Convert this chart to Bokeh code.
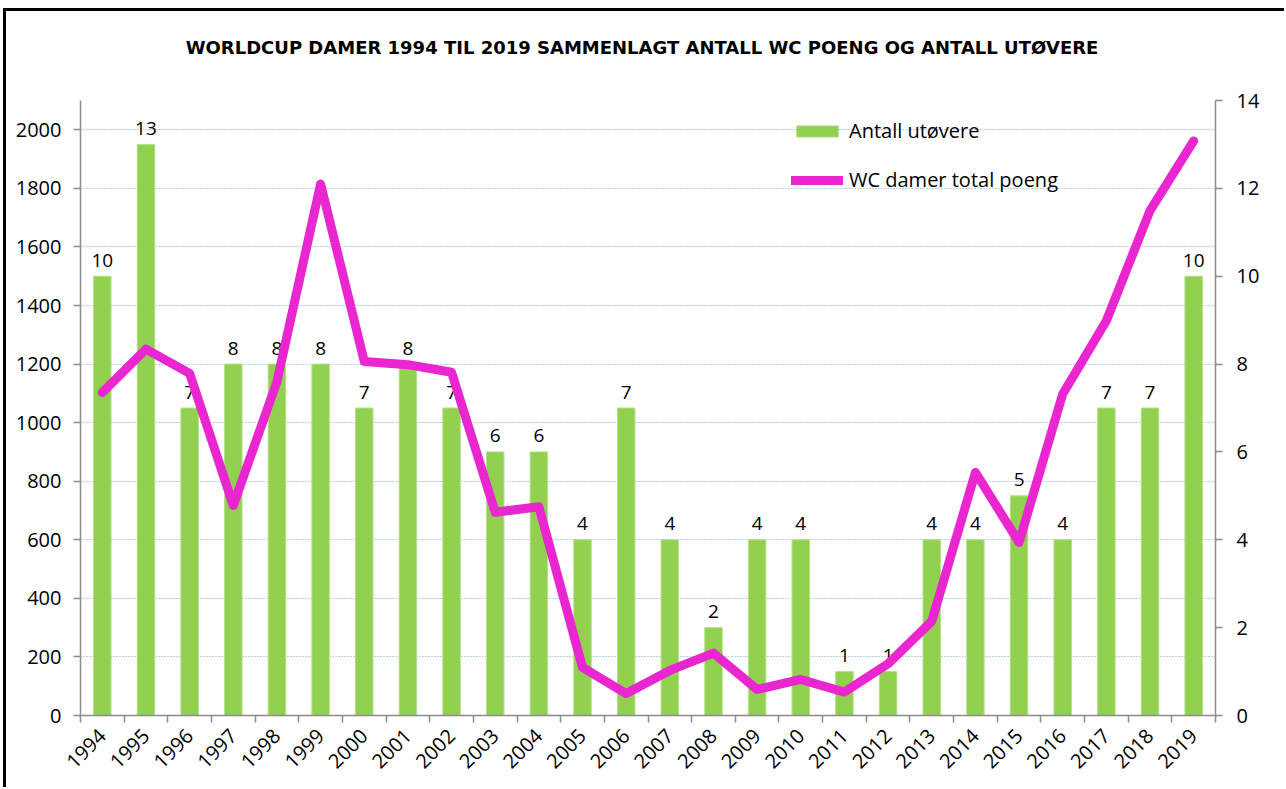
from bokeh.plotting import figure
from bokeh.models import Range1d, LinearAxis, FixedTicker, Legend, LegendItem, ColumnDataSource, Div
from bokeh.layouts import column
from bokeh.core.properties import value
from bokeh.embed import file_html
from bokeh.resources import INLINE
import math

years = [1994, 1995, 1996, 1997, 1998, 1999, 2000, 2001, 2002, 2003, 2004, 2005, 2006,
         2007, 2008, 2009, 2010, 2011, 2012, 2013, 2014, 2015, 2016, 2017, 2018, 2019]
antall_utovere = [10, 13, 7, 8, 8, 8, 7, 8, 7, 6, 6, 4, 7, 4, 2, 4, 4, 1, 1, 4, 4, 5, 4, 7, 7, 10]
total_poeng = [1103, 1251, 1168, 717, 1140, 1815, 1209, 1198, 1172, 694, 713, 164, 75,
               154, 213, 89, 123, 80, 177, 322, 830, 591, 1098, 1348, 1724, 1962]
left_ticks = [0, 200, 400, 600, 800, 1000, 1200, 1400, 1600, 1800, 2000]
right_ticks = [0, 2, 4, 6, 8, 10, 12, 14]
title_text = "WORLDCUP DAMER 1994 TIL 2019 SAMMENLAGT ANTALL WC POENG OG ANTALL UTØVERE"

FONT = "Open Sans"
GREEN = "#92D050"
MAGENTA = "#E926CF"

idx = list(range(len(years)))
src = ColumnDataSource(dict(x=idx, bars=antall_utovere, pts=total_poeng,
                            lbl=[str(v) for v in antall_utovere]))

title_div = Div(text=title_text, width=1262, height=50,
                styles={"font-family": "DejaVu Sans", "font-weight": "bold",
                        "font-size": "18px", "line-height": "22px", "padding-top": "21px",
                        "text-align": "center", "color": "black", "white-space": "nowrap"})

p = figure(width=1278, height=716, output_backend="svg", toolbar_location=None,
           x_range=Range1d(-0.5, len(years) - 0.5), y_range=Range1d(0, 2100),
           min_border_left=74, min_border_top=29, min_border_right=69, min_border_bottom=72)
p.extra_y_ranges = {"right": Range1d(0, 14)}
p.outline_line_color = None
p.background_fill_color = "white"
p.border_fill_color = "white"

# grid
p.xgrid.visible = False
p.ygrid.ticker = FixedTicker(ticks=left_ticks)
p.ygrid.grid_line_color = "#7f9fd6"
p.ygrid.grid_line_dash = "1 2"
p.ygrid.grid_line_width = 1.2

AX = "#8c8c8c"
def style_axis(ax):
    ax.axis_line_color = AX
    ax.axis_line_width = 1.5
    ax.major_tick_line_color = AX
    ax.major_tick_line_width = 1.5
    ax.major_tick_out = 7
    ax.major_tick_in = 0
    ax.minor_tick_line_color = None
    ax.major_label_text_font = FONT
    ax.major_label_text_font_size = "20px"
    ax.major_label_text_color = "black"

# left axis
p.yaxis.ticker = FixedTicker(ticks=left_ticks)
style_axis(p.yaxis[0])
p.yaxis.major_label_standoff = 12

# right axis
ra = LinearAxis(y_range_name="right", ticker=FixedTicker(ticks=right_ticks))
style_axis(ra)
ra.major_label_standoff = 14
p.add_layout(ra, "right")

# bottom axis
xa = p.xaxis[0]
xa.ticker = FixedTicker(ticks=idx, minor_ticks=[i - 0.5 for i in range(len(years) + 1)])
xa.major_label_overrides = {i: str(y) for i, y in zip(idx, years)}
style_axis(xa)
xa.major_tick_line_color = None
xa.minor_tick_line_color = AX
xa.minor_tick_line_width = 1.5
xa.minor_tick_out = 7
xa.minor_tick_in = 0
xa.major_label_orientation = math.pi / 4
xa.major_label_standoff = 10

# bars (secondary axis)
bars = p.vbar(x="x", top="bars", width=0.4, source=src, y_range_name="right",
              fill_color=GREEN, line_color="#b5df8a", line_width=1)

# data labels
p.text(x="x", y="bars", text="lbl", source=src, y_range_name="right",
       text_align="center", text_baseline="alphabetic", y_offset=-16,
       text_font=value(FONT), text_font_size="19px", text_color="black")

# line (primary axis)
ln = p.line(x="x", y="pts", source=src, line_color=MAGENTA, line_width=9,
            line_join="round", line_cap="round")

legend = Legend(items=[LegendItem(label="Antall utøvere", renderers=[bars]),
                       LegendItem(label="WC damer total poeng", renderers=[ln])],
                location=(711, 522), orientation="vertical")
legend.glyph_width = 52
legend.glyph_height = 14
legend.label_height = 20
legend.spacing = 22
legend.padding = 0
legend.margin = 0
legend.label_standoff = 6
legend.border_line_color = None
legend.background_fill_alpha = 0
legend.label_text_font = FONT
legend.label_text_font_size = "20px"
legend.label_text_color = "black"
p.add_layout(legend)

layout = column(title_div, p, spacing=0,
                styles={"border-left": "3px solid black", "border-top": "3px solid black",
                        "margin-left": "3px", "margin-top": "8px", "background": "white"})

open("out.html", "w").write(file_html(layout, INLINE))
